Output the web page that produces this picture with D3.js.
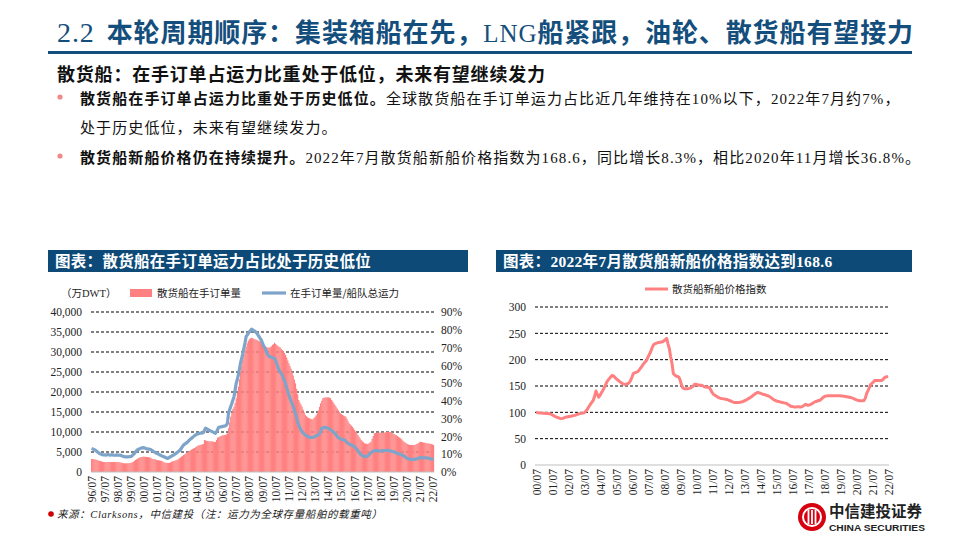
<!DOCTYPE html>
<html>
<head>
<meta charset="utf-8">
<script src="https://cdn.jsdelivr.net/npm/d3@7"></script>
<style>
  body { margin: 0; background: #fff; }
  svg { display: block; }
</style>
</head>
<body>
<svg width="960" height="540"></svg>
<script>
// ---- data ----
// left chart: monthly, 96/07 .. 22/07
const ticksL = ['96/07','97/07','98/07','99/07','00/07','01/07','02/07','03/07','04/07','05/07','06/07','07/07','08/07',
  '09/07','10/07','11/07','12/07','13/07','14/07','15/07','16/07','17/07','18/07','19/07','20/07','21/07','22/07'];

// bulk carrier orderbook (万DWT), rows = Jul..Jun
const orderbook = [
  3250, 3250, 3200, 3170, 3100, 3000, 2900, 2800, 2750, 2650, 2550, 2500,
  2500, 2500, 2480, 2500, 2520, 2500, 2500, 2480, 2500, 2500, 2480, 2500,
  2480, 2450, 2400, 2350, 2280, 2200, 2170, 2170, 2200, 2170, 2200, 2250,
  2300, 2400, 2550, 2750, 3000, 3170, 3350, 3500, 3670, 3730, 3780, 3830,
  3830, 3800, 3780, 3750, 3700, 3630, 3580, 3330, 3250, 3200, 3170, 3050,
  2980, 2920, 2870, 2800, 2750, 2600, 2450, 2330, 2300, 2280, 2250, 2250,
  2400, 2580, 2650, 2750, 2830, 2950, 3050, 3170, 3400, 3600, 3830, 4050,
  4250, 4420, 4650, 4870, 5080, 5250, 5420, 5580, 5720, 5860, 6000, 6200,
  6400, 6580, 6680, 6760, 6830, 6900, 7000, 8000, 7900, 7800, 7750, 7700,
  7670, 7650, 7670, 7600, 7500, 7500, 8000, 8580, 8700, 8850, 9000, 9100,
  9200, 9250, 9250, 9400, 9670, 10920, 12400, 13830, 14900, 15800, 16330, 17300,
  18420, 19800, 21330, 23200, 25080, 26500, 28000, 29300, 30500, 31300, 32170, 32800,
  33200, 33400, 33580, 33450, 33300, 33170, 33100, 33000, 32830, 32700, 32500, 32330,
  31800, 31330, 31300, 31330, 31200, 31100, 31080, 31200, 31400, 31750, 32000, 32330,
  32000, 31750, 31500, 31300, 31170, 30800, 30500, 30200, 29800, 29250, 28600, 27900,
  27170, 26500, 25800, 25080, 24100, 23100, 22170, 20800, 19400, 18000, 17400, 16900,
  16330, 15600, 14900, 14250, 13950, 13700, 13500, 13420, 13300, 13200, 13170, 13500,
  13830, 14200, 14670, 15400, 16300, 17170, 17800, 18420, 18550, 18650, 18670, 18670,
  18670, 18600, 18450, 18000, 17600, 17200, 16750, 16350, 15900, 15500, 15000, 14670,
  14500, 14250, 14100, 13950, 13830, 13300, 12700, 12170, 11900, 11600, 11330, 10900,
  10500, 10080, 9700, 9250, 8830, 8400, 8000, 7700, 7450, 7170, 7100, 7050,
  7000, 7150, 7350, 7580, 8300, 9000, 9670, 9750, 9800, 9830, 9830, 9850,
  9830, 9850, 9850, 9830, 9900, 10000, 10080, 10050, 10000, 9920, 9800, 9650,
  9500, 9350, 9200, 9000, 8800, 8600, 8420, 8150, 7850, 7580, 7380, 7200,
  7000, 6900, 6800, 6750, 6750, 6750, 6750, 6750, 6900, 7050, 7170, 7400,
  7580, 7500, 7420, 7330, 7300, 7250, 7200, 7170, 7100, 7050, 7000, 6900,
  6750
];

// orderbook / fleet (%)
const orderRatio = [
  13.3, 13.0, 12.7, 12.4, 12.0, 11.5, 11.0, 10.5, 10.2, 9.9, 9.7, 9.6,
  9.6, 9.5, 9.7, 9.8, 9.6, 9.5, 9.6, 9.7, 9.5, 9.4, 9.5, 9.6,
  9.5, 9.4, 9.5, 9.3, 9.0, 8.8, 8.6, 8.5, 8.6, 8.5, 8.6, 8.6,
  8.7, 9.2, 9.8, 10.3, 11.2, 12.0, 12.5, 12.8, 13.1, 13.4, 13.6, 13.7,
  13.6, 13.4, 13.1, 13.0, 12.9, 12.8, 12.6, 12.2, 11.8, 11.4, 11.0, 10.6,
  10.4, 10.1, 9.7, 9.4, 9.1, 8.8, 8.6, 8.3, 8.0, 7.7, 7.8, 8.2,
  8.6, 8.9, 9.3, 9.6, 10.0, 10.5, 10.9, 11.4, 11.9, 12.4, 13.4, 14.4,
  15.2, 15.7, 16.1, 16.5, 17.1, 17.8, 18.4, 18.9, 19.4, 19.9, 20.4, 20.9,
  21.2, 21.4, 21.6, 21.8, 21.9, 22.0, 22.1, 23.4, 24.6, 24.3, 24.0, 23.6,
  23.3, 23.0, 22.7, 22.4, 22.1, 21.8, 22.5, 23.8, 25.1, 25.2, 25.4, 25.5,
  25.7, 25.8, 25.9, 26.4, 27.4, 33.0, 35.0, 36.8, 38.5, 40.5, 42.4, 46.0,
  49.9, 52.0, 54.6, 58.0, 61.5, 63.9, 66.5, 69.6, 72.5, 76.1, 77.0, 78.0,
  78.8, 79.6, 80.3, 80.0, 79.6, 79.2, 78.6, 78.0, 77.0, 76.0, 75.0, 74.0,
  72.5, 71.0, 70.0, 68.5, 67.0, 65.8, 65.2, 64.8, 64.5, 64.3, 64.1, 63.9,
  62.5, 61.0, 59.0, 57.4, 56.5, 55.5, 54.6, 53.0, 51.5, 49.9, 47.5, 45.5,
  43.3, 41.5, 40.0, 38.6, 36.8, 35.0, 33.0, 31.0, 28.5, 26.4, 25.0, 23.8,
  22.7, 22.0, 21.4, 20.8, 20.4, 20.0, 19.6, 19.5, 19.4, 19.5, 19.5, 19.7,
  20.0, 20.3, 20.6, 20.9, 21.4, 22.8, 24.6, 24.8, 25.0, 25.1, 25.0, 24.8,
  24.6, 24.2, 23.8, 23.3, 22.8, 22.3, 21.8, 21.0, 20.2, 19.5, 19.1, 18.7,
  18.4, 18.3, 18.1, 18.0, 17.4, 16.7, 16.1, 15.8, 15.5, 15.2, 14.9, 14.6,
  14.3, 13.5, 12.8, 12.0, 11.2, 10.4, 9.6, 9.3, 9.0, 8.6, 8.7, 8.8,
  9.0, 9.6, 10.3, 10.9, 11.3, 11.7, 12.0, 12.0, 12.0, 12.0, 11.9, 11.8,
  11.8, 11.9, 12.0, 12.0, 12.1, 12.2, 12.2, 12.0, 11.9, 11.8, 11.6, 11.5,
  11.4, 11.1, 10.8, 10.5, 10.3, 10.1, 9.9, 9.6, 9.3, 9.0, 8.6, 8.1,
  7.7, 7.5, 7.3, 7.1, 7.1, 7.1, 7.1, 7.1, 7.3, 7.5, 7.7, 7.9,
  8.2, 8.1, 8.0, 8.0, 8.0, 8.0, 7.9, 7.8, 7.7, 7.5, 7.3, 7.2,
  7.1
];

// right chart: monthly, 00/07 .. 22/07
const ticksR = ['00/07','01/07','02/07','03/07','04/07','05/07','06/07','07/07','08/07','09/07','10/07','11/07',
  '12/07','13/07','14/07','15/07','16/07','17/07','18/07','19/07','20/07','21/07','22/07'];

// bulk carrier newbuilding price index
const priceIndex = [
  100, 99.5, 99, 98.7, 98.5, 98.3, 98.2, 98, 98, 97.8, 97.5, 97,
  95.5, 94, 92.4, 91.5, 90.5, 89.5, 88.5, 88, 88.5, 89.5, 90.5, 91,
  91.5, 92, 92.5, 93, 93.7, 94.2, 95, 96, 96.8, 97.5, 98, 98.5,
  99, 101, 104, 108, 112, 116, 119.5, 123, 131, 140.6, 134, 129,
  132, 137, 141, 146, 151.4, 157, 161, 164, 167, 170, 169, 167,
  164, 162, 160, 157.8, 156, 154.5, 153.3, 153, 154, 154.6, 156.5, 161,
  167, 173.7, 175, 176, 176.8, 179, 182.5, 186, 189.5, 193, 196, 199,
  205, 210, 215, 222, 227.6, 230, 231, 232, 232.5, 233, 233.5, 234,
  236, 238, 240.3, 230, 221, 205, 192.7, 173.7, 171, 169, 168, 167.3,
  162, 153, 147, 145, 145, 145, 145, 145.5, 146.5, 148, 150, 153.3,
  153.5, 152.5, 152, 151.5, 151.4, 150.5, 149, 148, 147.5, 147.4, 147, 143,
  138, 134.5, 132.7, 131, 129.5, 128, 127, 126.3, 126, 125.5, 125, 124.4,
  123.5, 122.5, 121.5, 120.5, 119.5, 118.6, 118.6, 118.6, 118.6, 119, 119.5, 120.5,
  121.5, 122.5, 124, 125.5, 127, 128.5, 130.5, 132.5, 134.5, 136, 137.8, 137.5,
  136.5, 135.5, 134.5, 134, 133, 132, 131.4, 130, 128.5, 126.5, 124.5, 123,
  122, 121, 120.5, 119.9, 119, 118.5, 118, 117.5, 116.7, 115, 113.5, 111.5,
  111, 110.5, 110.3, 110.3, 110.5, 110.5, 110.3, 110.3, 111.5, 113, 115.4, 114,
  113.5, 114, 115, 116.5, 118, 119.9, 120.5, 121.5, 122.5, 123, 125, 127.5,
  129.5, 130.8, 131.2, 131.4, 131.4, 131.4, 131.4, 131.4, 131.4, 131.4, 131.4, 131.4,
  131.4, 131.2, 131, 130.5, 130, 129.5, 129, 128.5, 128, 127.5, 126.3, 125.2,
  124, 123, 122.5, 121.8, 121.8, 121.8, 122.5, 127, 135.9, 141, 147, 153,
  155, 157.5, 160.3, 160.3, 160.3, 160.3, 160.3, 160.3, 162, 165, 166.7, 167.5,
  168.6
];

const blue = '#134e7c';
const pink = '#ff8080';
const steel = '#7fa4c9';
const cjk = '"Noto Sans CJK SC", sans-serif';
const serif = '"Liberation Serif", "Noto Sans CJK SC", serif';

const svg = d3.select('svg');

// ---- page header ----
const title = svg.append('text')
    .attr('x', 57).attr('y', 42)
    .attr('fill', blue)
    .style('font-size', '26px')
    .style('letter-spacing', '0.9px');
title.append('tspan').text('2.2').style('font-family', serif).style('font-size', '28px');
title.append('tspan').attr('dx', 12).text('本轮周期顺序：集装箱船在先，')
    .style('font-family', cjk).style('font-weight', 'bold');
title.append('tspan').text('LNG').style('font-family', serif).style('font-size', '25px');
title.append('tspan').text('船紧跟，油轮、散货船有望接力')
    .style('font-family', cjk).style('font-weight', 'bold');

svg.append('rect').attr('x', 48).attr('y', 51).attr('width', 864).attr('height', 3).attr('fill', blue);

svg.append('text')
    .attr('x', 57).attr('y', 81)
    .style('font-family', cjk).style('font-weight', 'bold').style('font-size', '18px')
    .style('letter-spacing', '0.8px')
    .attr('fill', '#111')
    .text('散货船：在手订单占运力比重处于低位，未来有望继续发力');

const bullets = [
  { y: 104, dot: true, bold: '散货船在手订单占运力比重处于历史低位。', rest: '全球散货船在手订单运力占比近几年维持在10%以下，2022年7月约7%，' },
  { y: 133, dot: false, bold: '', rest: '处于历史低位，未来有望继续发力。' },
  { y: 163, dot: true, bold: '散货船新船价格仍在持续提升。', rest: '2022年7月散货船新船价格指数为168.6，同比增长8.3%，相比2020年11月增长36.8%。' }
];
bullets.forEach(function(b) {
  if (b.dot) {
    svg.append('circle').attr('cx', 60).attr('cy', b.y - 7).attr('r', 2.6).attr('fill', '#f08a8a');
  }
  const t = svg.append('text').attr('x', 80).attr('y', b.y)
      .style('font-family', serif).style('font-size', '15px')
      .style('letter-spacing', '1.1px').attr('fill', '#111');
  if (b.bold) t.append('tspan').text(b.bold).style('font-family', cjk).style('font-weight', 'bold');
  t.append('tspan').text(b.rest);
});

// ---- chart title bars ----
[[48, 420, '图表：散货船在手订单运力占比处于历史低位'],
 [496, 416, '图表：2022年7月散货船新船价格指数达到168.6']].forEach(function(d) {
  svg.append('rect').attr('x', d[0]).attr('y', 250).attr('width', d[1]).attr('height', 22).attr('fill', '#0d4a78');
  svg.append('text').attr('x', d[0] + 7).attr('y', 267)
      .style('font-family', serif).style('font-weight', 'bold').style('font-size', '15.5px')
      .style('letter-spacing', '0.3px')
      .attr('fill', '#fff').text(d[2]);
});

// ---- left chart ----
const monthsL = d3.range(orderbook.length);
const xL = d3.scaleBand().domain(monthsL).range([91, 434]).padding(0);
const yL = d3.scaleLinear().domain([0, 40000]).range([472, 312]);
const yPct = d3.scaleLinear().domain([0, 0.9]).range([472, 312]);

const gL = svg.append('g');

gL.append('g').selectAll('line')
    .data(yL.ticks(8).filter(d => d > 0))
    .enter().append('line')
    .attr('x1', 91).attr('x2', 434)
    .attr('y1', d => yL(d)).attr('y2', d => yL(d))
    .attr('stroke', '#000').attr('stroke-width', 1).attr('stroke-dasharray', '3,2');

gL.append('g').selectAll('rect')
    .data(orderbook)
    .enter().append('rect')
    .attr('x', (d, i) => xL(i))
    .attr('width', xL.bandwidth() + 0.15)
    .attr('y', d => yL(d))
    .attr('height', d => yL(0) - yL(d))
    .attr('fill', pink);

gL.append('line').attr('x1', 91).attr('x2', 434).attr('y1', yL(0)).attr('y2', yL(0))
    .attr('stroke', '#bfbfbf').attr('stroke-width', 1);

const ratioLine = d3.line()
    .x((d, i) => xL(i) + xL.bandwidth() / 2)
    .y(d => yPct(d / 100));
gL.append('path').datum(orderRatio)
    .attr('d', ratioLine)
    .attr('fill', 'none').attr('stroke', steel).attr('stroke-width', 3.2)
    .attr('stroke-linejoin', 'round');

const axL = gL.append('g').attr('transform', 'translate(89,0)')
    .call(d3.axisLeft(yL).ticks(8).tickFormat(d3.format(',')).tickSize(0).tickPadding(7));
const axR = gL.append('g').attr('transform', 'translate(436,0)')
    .call(d3.axisRight(yPct).tickValues(d3.range(0, 0.91, 0.1)).tickFormat(d3.format('.0%')).tickSize(0).tickPadding(5));
const axB = gL.append('g').attr('transform', 'translate(0,472)')
    .call(d3.axisBottom(xL).tickValues(d3.range(0, orderbook.length, 12))
      .tickFormat(i => ticksL[i / 12]).tickSize(0));
axB.selectAll('text')
    .attr('transform', 'rotate(-90)')
    .attr('text-anchor', 'end')
    .attr('x', -4).attr('y', 0).attr('dy', '0.35em');
[axL, axR, axB].forEach(function(a) {
  a.select('.domain').remove();
  a.selectAll('text').style('font-family', serif).style('font-size', '11.5px').attr('fill', '#222');
});

// legend left
const lgL = svg.append('g').style('font-family', cjk).style('font-size', '10.5px').attr('fill', '#222');
lgL.append('text').attr('x', 61).attr('y', 297).text('（万DWT）').style('font-family', serif);
lgL.append('rect').attr('x', 130).attr('y', 289).attr('width', 22).attr('height', 8).attr('fill', pink);
lgL.append('text').attr('x', 157).attr('y', 297).text('散货船在手订单量');
lgL.append('line').attr('x1', 262).attr('x2', 286).attr('y1', 293).attr('y2', 293)
    .attr('stroke', steel).attr('stroke-width', 3.2);
lgL.append('text').attr('x', 290).attr('y', 297).text('在手订单量/船队总运力');

// source
svg.append('circle').attr('cx', 51).attr('cy', 514).attr('r', 2.8).attr('fill', '#d10000');
svg.append('text').attr('x', 57).attr('y', 518)
    .style('font-family', serif).style('font-style', 'italic').style('font-size', '10.5px')
    .style('letter-spacing', '0.6px')
    .attr('fill', '#222')
    .text('来源：Clarksons，中信建投（注：运力为全球存量船舶的载重吨）');

// ---- right chart ----
const monthsR = d3.range(priceIndex.length);
const xR = d3.scalePoint().domain(monthsR).range([536, 888]);
const yP = d3.scaleLinear().domain([0, 300]).range([465, 307]);

const gR = svg.append('g');
gR.append('g').selectAll('line')
    .data(yP.ticks(6).filter(d => d > 0))
    .enter().append('line')
    .attr('x1', 535).attr('x2', 889)
    .attr('y1', d => yP(d)).attr('y2', d => yP(d))
    .attr('stroke', '#000').attr('stroke-width', 1).attr('stroke-dasharray', '3,2');
gR.append('line').attr('x1', 535).attr('x2', 889).attr('y1', yP(0)).attr('y2', yP(0))
    .attr('stroke', '#bfbfbf').attr('stroke-width', 1);

gR.append('path').datum(priceIndex)
    .attr('d', d3.line().x((d, i) => xR(i)).y(d => yP(d)))
    .attr('fill', 'none').attr('stroke', pink).attr('stroke-width', 3)
    .attr('stroke-linejoin', 'round');

const axPL = gR.append('g').attr('transform', 'translate(532,0)')
    .call(d3.axisLeft(yP).ticks(6).tickSize(0).tickPadding(6));
const axPB = gR.append('g').attr('transform', 'translate(0,465)')
    .call(d3.axisBottom(xR).tickValues(d3.range(0, priceIndex.length, 12))
      .tickFormat(i => ticksR[i / 12]).tickSize(0));
axPB.selectAll('text')
    .attr('transform', 'rotate(-90)')
    .attr('text-anchor', 'end')
    .attr('x', -4).attr('y', 0).attr('dy', '0.35em');
[axPL, axPB].forEach(function(a) {
  a.select('.domain').remove();
  a.selectAll('text').style('font-family', serif).style('font-size', '11.5px').attr('fill', '#222');
});

// legend right
svg.append('line').attr('x1', 645).attr('x2', 668).attr('y1', 289).attr('y2', 289)
    .attr('stroke', pink).attr('stroke-width', 3);
svg.append('text').attr('x', 672).attr('y', 293)
    .style('font-family', cjk).style('font-size', '10.5px').attr('fill', '#222')
    .text('散货船新船价格指数');

// ---- logo ----
const logo = svg.append('g');
logo.append('circle').attr('cx', 812).attr('cy', 517).attr('r', 14).attr('fill', '#d7000f');
logo.append('circle').attr('cx', 812).attr('cy', 517).attr('r', 9).attr('fill', 'none')
    .attr('stroke', '#fff').attr('stroke-width', 2);
[-3.5, 0, 3.5].forEach(function(dx) {
  logo.append('rect').attr('x', 812 + dx - 0.9).attr('y', 510).attr('width', 1.8).attr('height', 14).attr('fill', '#fff');
});
logo.append('text').attr('x', 829).attr('y', 517)
    .style('font-family', cjk).style('font-weight', 'bold').style('font-size', '15.5px')
    .attr('fill', '#222').text('中信建投证券');
logo.append('text').attr('x', 829).attr('y', 531)
    .style('font-family', '"Liberation Sans", Arial, sans-serif').style('font-weight', 'bold').style('font-size', '9px')
    .attr('textLength', 96).attr('lengthAdjust', 'spacingAndGlyphs')
    .attr('fill', '#222').text('CHINA SECURITIES');
</script>
</body>
</html>
